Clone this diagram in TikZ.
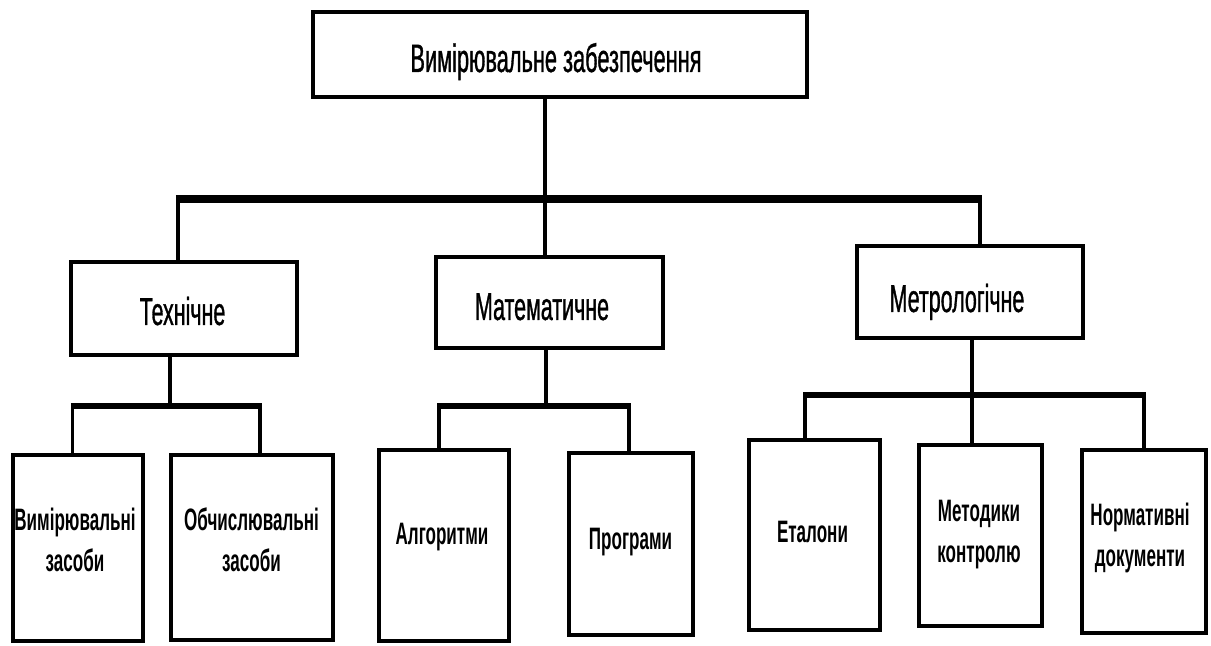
\documentclass[tikz,border=0pt]{standalone}
\usepackage{fontspec}
\newfontfamily\nar{Liberation Sans}[FakeStretch=0.55]
\newfontfamily\narm{Liberation Sans}[FakeStretch=0.55, FakeBold=0.8]
\tikzset{
  box/.style={draw, line width=2pt, inner sep=0pt, outer sep=0pt, fill=white},
  conn/.style={line width=2.2pt},
  drop/.style={line width=1.7pt},
  mainbus/.style={line width=4pt, shorten <=-1.1pt, shorten >=-1.1pt},
  subbus/.style={line width=3pt, shorten <=-0.85pt, shorten >=-0.85pt},
  ttop/.style={font=\narm\fontsize{19.8}{24}\selectfont, inner sep=0pt, anchor=base},
  tmid/.style={font=\narm\fontsize{19.5}{24}\selectfont, inner sep=0pt, anchor=base},
  tleaf/.style={font=\nar\bfseries\fontsize{15.5}{20.5}\selectfont, inner sep=0pt, align=center},
  tleafb/.style={tleaf, anchor=base},
}
\begin{document}
\begin{tikzpicture}[x=0.5pt,y=-0.5pt]
\useasboundingbox (0,0) rectangle (1211,646);

% boxes
\node[box, minimum width=247pt, minimum height=42.5pt] (top) at (560,54.5) {};
\node[box, minimum width=113pt, minimum height=46.5pt] (tech) at (184,308.5) {};
\node[box, minimum width=113.5pt, minimum height=45.5pt] (math) at (549.5,302.5) {};
\node[box, minimum width=113pt, minimum height=46pt] (metro) at (970,292) {};
\node[box, minimum width=65pt, minimum height=93pt] (vz) at (78,548) {};
\node[box, minimum width=81pt, minimum height=92.5pt] (oz) at (252,547.5) {};
\node[box, minimum width=65pt, minimum height=95.5pt] (alg) at (444,545.5) {};
\node[box, minimum width=62pt, minimum height=91pt] (prog) at (631,544) {};
\node[box, minimum width=65.5pt, minimum height=95pt] (etal) at (814.5,535) {};
\node[box, minimum width=61.5pt, minimum height=90.5pt] (meth) at (980.5,535.5) {};
\node[box, minimum width=62pt, minimum height=91.5pt] (norm) at (1144,541.5) {};

% texts
\node[ttop] (ttop) at (556,72) {Вимірювальне забезпечення};
\node[tmid] (ttech) at (182.5,325) {Технічне};
\node[tmid] (tmath) at (542,320) {Математичне};
\node[tmid] (tmetro) at (957,312) {Метрологічне};
\node[tleaf] (tvz) at (75,540) {Вимірювальні\\засоби};
\node[tleaf] (toz) at (251.5,540) {Обчислювальні\\засоби};
\node[tleafb] (talg) at (442,545) {Алгоритми};
\node[tleafb] (tprog) at (630.5,550) {Програми};
\node[tleafb] (tetal) at (812.5,543) {Еталони};
\node[tleaf] (tmeth) at (979,535) {Методики\\контролю};
\node[tleaf] (tnorm) at (1140,538) {Нормативні\\документи};

% main bus
\coordinate (bL) at (178,199);
\coordinate (bM) at (545,199);
\coordinate (bR) at (980,199);
\draw[conn] (top.south -| bM) -- (bM);
\draw[mainbus] (bL) -- (bR);
\draw[conn] (bL) -- (bL |- tech.north);
\draw[conn] (bM) -- (bM |- math.north);
\draw[conn] (bR) -- (bR |- metro.north);

% technical branch
\coordinate (tS) at (170,406);
\coordinate (tL) at (72.5,406);
\coordinate (tR) at (260,406);
\draw[conn] (tech.south -| tS) -- (tS);
\draw[subbus] (tL) -- (tR);
\draw[drop] (tL) -- (tL |- vz.north);
\draw[drop] (tR) -- (tR |- oz.north);

% mathematical branch
\coordinate (mS) at (546,406);
\coordinate (mL) at (439,406);
\coordinate (mR) at (629,406);
\draw[conn] (math.south -| mS) -- (mS);
\draw[subbus] (mL) -- (mR);
\draw[drop] (mL) -- (mL |- alg.north);
\draw[drop] (mR) -- (mR |- prog.north);

% metrological branch
\coordinate (eS) at (972,395);
\coordinate (eL) at (805,395);
\coordinate (eR) at (1144,395);
\draw[conn] (metro.south -| eS) -- (eS);
\draw[subbus] (eL) -- (eR);
\draw[drop] (eL) -- (eL |- etal.north);
\draw[drop] (eS) -- (eS |- meth.north);
\draw[drop] (eR) -- (eR |- norm.north);
\end{tikzpicture}
\end{document}
